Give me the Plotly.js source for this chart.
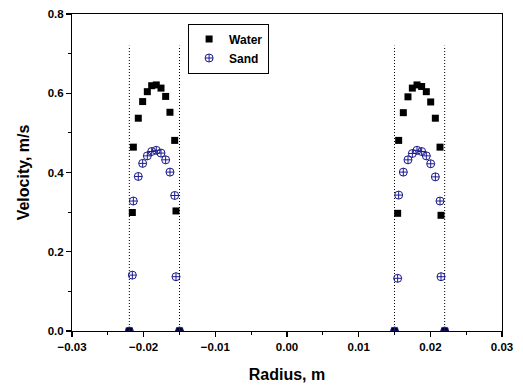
<!DOCTYPE html>
<html>
<head>
<meta charset="utf-8">
<script src="https://cdn.plot.ly/plotly-3.0.1.min.js"></script>
<style>html,body{margin:0;padding:0;background:#fff;}#chart{width:523px;height:389px;}</style>
</head>
<body>
<div id="chart"></div>
<script>
const waterRadius = [-0.02158,-0.02144,-0.02075,-0.02014,-0.01949,-0.01888,-0.01824,-0.01758,-0.01693,-0.01633,-0.01567,-0.01549,
                     0.01544,0.01558,0.01623,0.01688,0.01749,0.01814,0.01879,0.01944,0.02005,0.02070,0.02135,0.02149];
const waterVelocity = [0.299,0.464,0.537,0.579,0.604,0.619,0.621,0.613,0.592,0.552,0.481,0.303,
                       0.297,0.481,0.551,0.591,0.613,0.621,0.617,0.604,0.578,0.537,0.464,0.292];
const sandRadius = waterRadius;
const sandVelocity = [0.141,0.328,0.390,0.423,0.442,0.453,0.456,0.449,0.432,0.401,0.342,0.137,
                      0.133,0.343,0.401,0.432,0.448,0.456,0.453,0.442,0.422,0.389,0.328,0.137];
const wallRadius = [-0.022,-0.015,0.015,0.022];
const wallVelocity = [0,0,0,0];
const wallLineTop = 0.72;
const xTicks = [-0.03,-0.02,-0.01,0.00,0.01,0.02,0.03];
const yTicks = [0.0,0.2,0.4,0.6,0.8];

const navy = '#1a1a8c';
const traces = [
  {x: waterRadius.concat(wallRadius), y: waterVelocity.concat(wallVelocity), mode:'markers', type:'scatter', name:'Water',
   marker:{symbol:'square', size:7, color:'#000'}, cliponaxis:true},
  {x: sandRadius.concat(wallRadius), y: sandVelocity.concat(wallVelocity), mode:'markers', type:'scatter', name:'Sand',
   marker:{symbol:'circle-cross-open', size:8, color:navy, line:{width:1, color:navy}}, cliponaxis:true}
];
const shapes = wallRadius.map(r => ({type:'line', xref:'x', yref:'y', x0:r, x1:r, y0:0, y1:wallLineTop,
  line:{color:'#000', width:1, dash:'1px,2px'}, layer:'below'}));

const fontFam = 'Liberation Sans, Arial, sans-serif';
const xStep = xTicks[1] - xTicks[0];
const yStep = yTicks[1] - yTicks[0];
const layout = {
  width:523, height:389,
  margin:{l:72, r:21, t:14, b:58},
  paper_bgcolor:'#fff', plot_bgcolor:'#fff',
  showlegend:true,
  legend:{x:0.27, y:0.97, xanchor:'left', yanchor:'top', bordercolor:'#000', borderwidth:1, bgcolor:'#fff',
    font:{family:fontFam, size:12, color:'#000', weight:'bold'}, tracegroupgap:0, itemwidth:30},
  shapes: shapes,
  xaxis:{range:[xTicks[0], xTicks[xTicks.length-1]], tickmode:'linear', tick0:xTicks[0], dtick:xStep, tickformat:'.2f',
    ticks:'outside', ticklen:5, tickwidth:1.2,
    tickcolor:'#000', showline:true, linecolor:'#000', linewidth:1, mirror:true, showgrid:false, zeroline:false,
    tickfont:{family:fontFam, size:11.5, color:'#000', weight:'bold'},
    minor:{dtick:xStep/2, ticks:'outside', ticklen:3, tickwidth:1.2, tickcolor:'#000', showgrid:false},
    title:{text:'Radius, m', font:{family:fontFam, size:16, color:'#000', weight:'bold'}, standoff:17}},
  yaxis:{range:[yTicks[0], yTicks[yTicks.length-1]], tickmode:'linear', tick0:0, dtick:yStep, tickformat:'.1f',
    ticks:'outside', ticklen:5, tickwidth:1.2,
    tickcolor:'#000', showline:true, linecolor:'#000', linewidth:1, mirror:true, showgrid:false, zeroline:false,
    tickfont:{family:fontFam, size:11.5, color:'#000', weight:'bold'},
    minor:{dtick:yStep/2, ticks:'outside', ticklen:3, tickwidth:1.2, tickcolor:'#000', showgrid:false},
    title:{text:'Velocity, m/s', font:{family:fontFam, size:16, color:'#000', weight:'bold'}, standoff:14}}
};
Plotly.newPlot('chart', traces, layout, {displayModeBar:false, staticPlot:true});
</script>
</body>
</html>
